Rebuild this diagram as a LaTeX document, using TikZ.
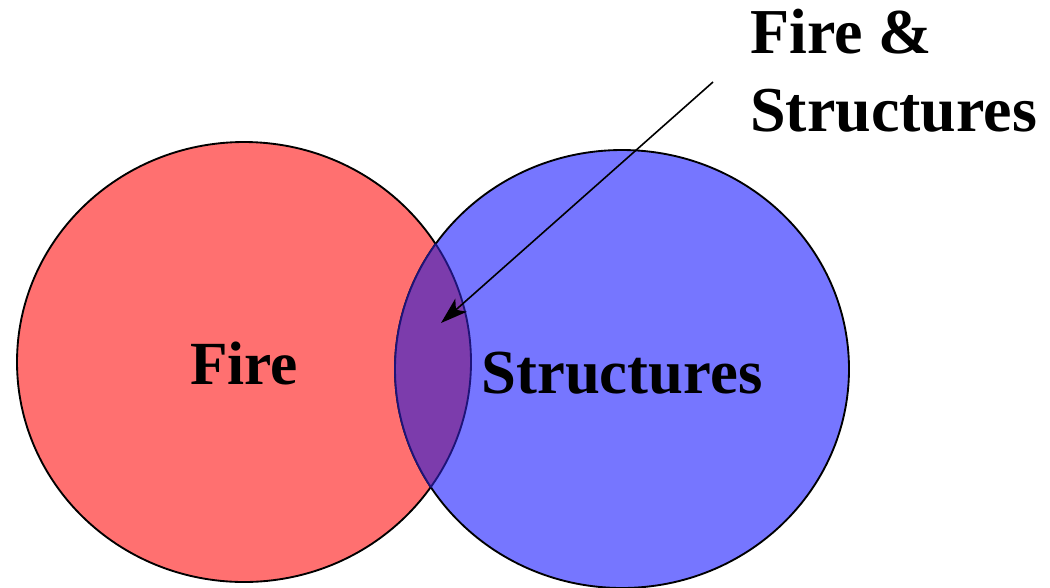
\documentclass[tikz,border=0pt]{standalone}
\usepackage{fontspec}
\setmainfont{Liberation Serif}
\definecolor{Firecol}{RGB}{255,112,112}
\definecolor{Strucol}{RGB}{118,118,255}
\definecolor{Bothcol}{RGB}{124,60,172}
\definecolor{Edgecol}{RGB}{30,20,120}
\usetikzlibrary{arrows.meta, positioning}
\tikzset{
    >=Stealth,
    font=\bfseries,
    ring/.style={line width=1.4pt}
}

\begin{document}
\begin{tikzpicture}[x=0.75pt, y=-0.75pt]
    \useasboundingbox (0,0) rectangle (1050,587);
    % Set shapes
    \coordinate (F) at (244, 362);
    \coordinate (S) at (622, 369);
    \def\firering{(F) ellipse [x radius=227, y radius=220]}
    \def\strucring{(S) ellipse [x radius=227, y radius=219]}

    % Fills and outlines
    \filldraw[ring, fill=Firecol, draw=black] \firering;
    \filldraw[ring, fill=Strucol, draw=black] \strucring;

    % Overlap
    \begin{scope}
        \clip \firering;
        \fill[Bothcol] \strucring;
        \draw[ring, Edgecol] \strucring;
    \end{scope}
    \begin{scope}
        \clip \strucring;
        \draw[ring, Edgecol] \firering;
    \end{scope}

    % Set labels
    \node[anchor=base, inner sep=0pt, font=\fontsize{46}{50}\bfseries] (fire) at (244, 384) {Fire};
    \node[anchor=base, inner sep=0pt, font=\fontsize{47}{50}\bfseries] (structures) at (622, 393) {Structures};

    % Overlap label and arrow
    \node[anchor=base west, inner sep=0pt, align=left, font=\fontsize{48}{58.5}\bfseries] (both) at (750, 131) {Fire \&\\Structures};
    \coordinate (tail) at (713, 82);
    \coordinate (tip) at (441, 323);
    \draw[-{Stealth[length=20pt, width=13pt, inset=5pt]}, line width=1.2pt] (tail) -- (tip);
\end{tikzpicture}
\end{document}
